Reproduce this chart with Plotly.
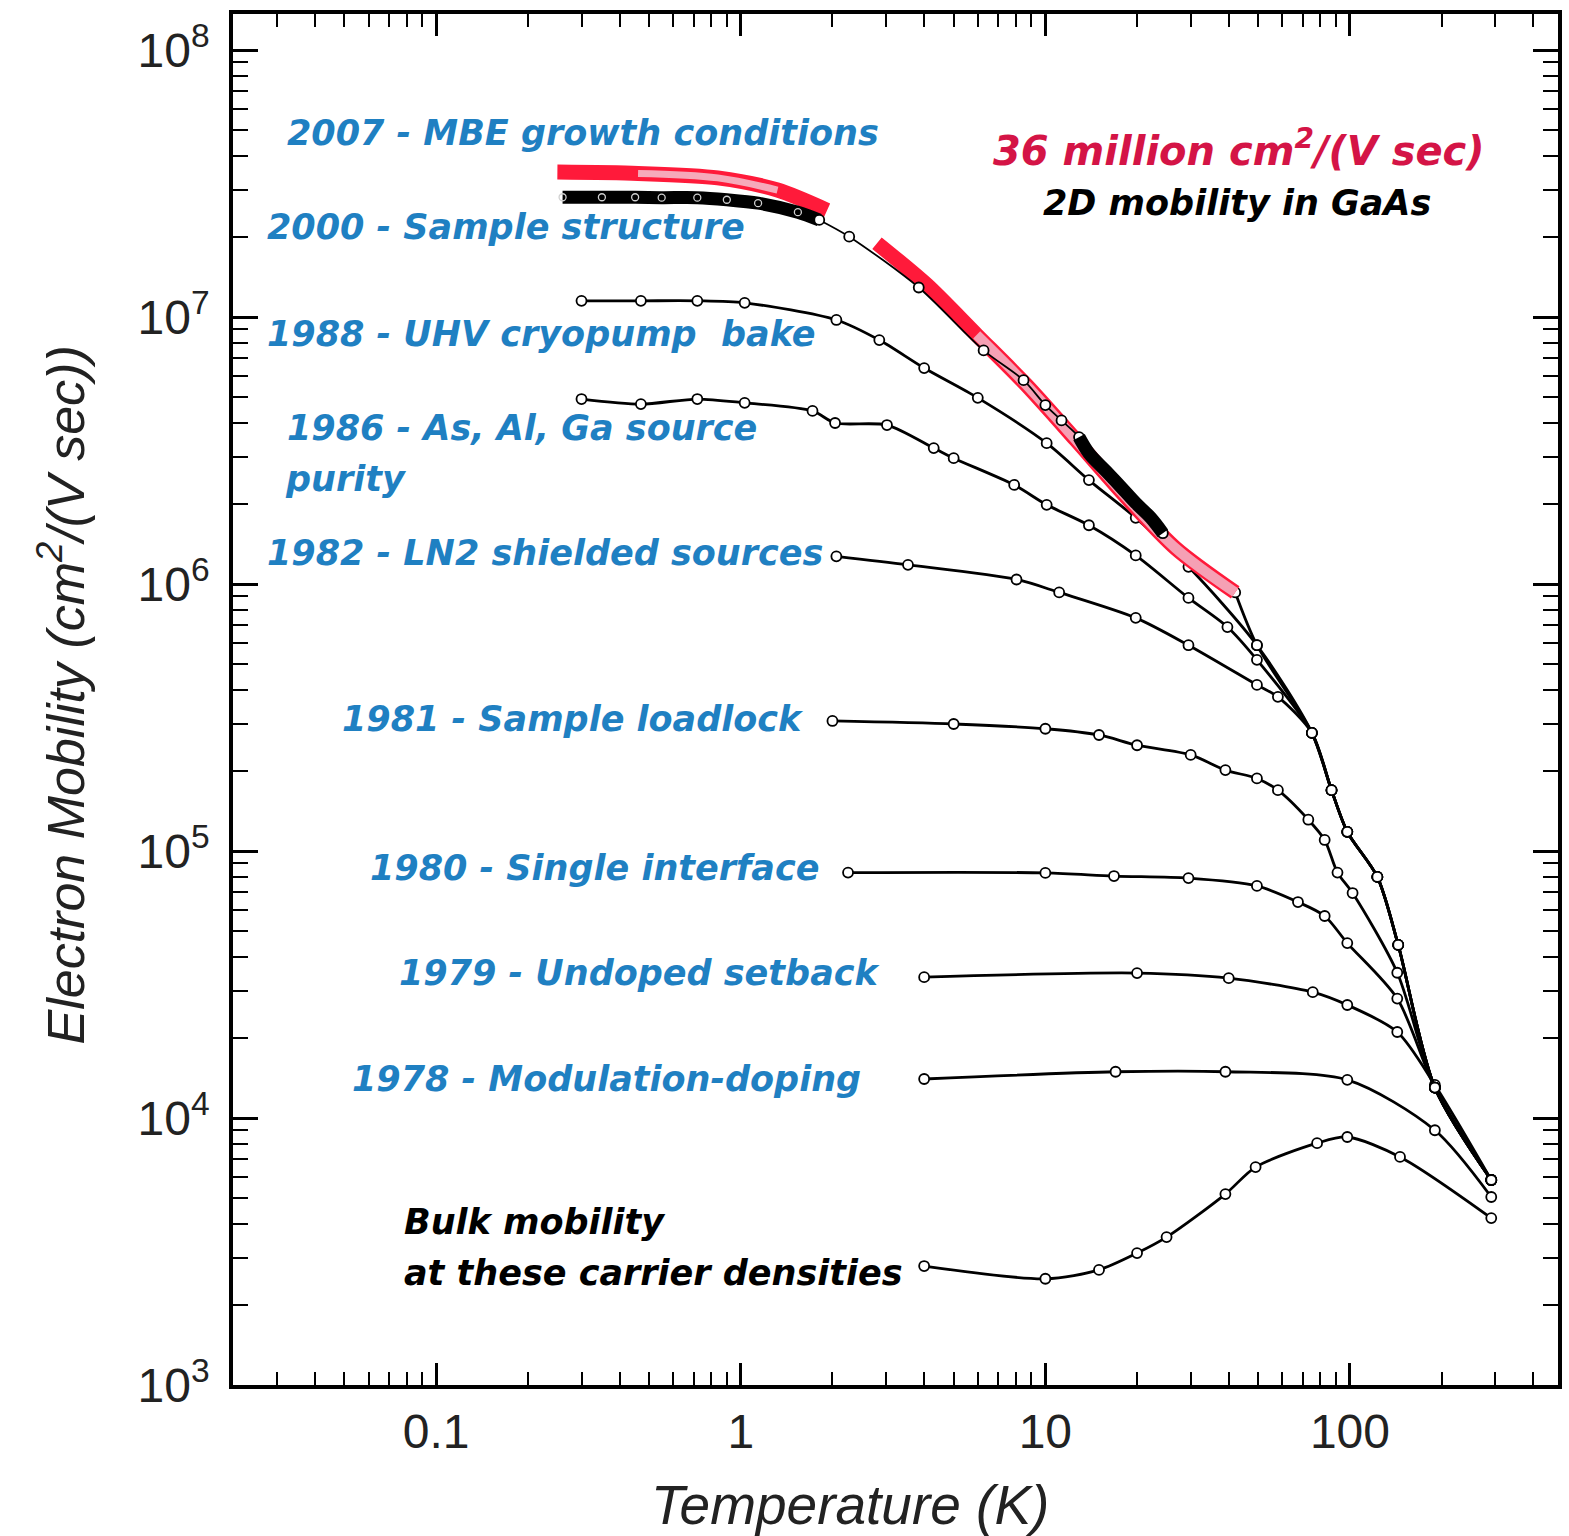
import plotly.graph_objects as go

# ---------------- data ----------------
# shared high-temperature (phonon-limited) tail
TAIL_T = [75, 87, 98, 123, 144, 190, 291]
TAIL_MU = [2.77e5, 1.69e5, 1.18e5, 8.0e4, 4.45e4, 1.3e4, 5.86e3]

T2007 = [0.25, 0.46, 0.84, 1.32, 1.92, None, 2.8, 4.08, 5.95, 8.67, 12.6, 18.4, 26.8, 42, 49.5] + TAIL_T
MU2007 = [3.49e7, 3.45e7, 3.32e7, 2.99e7, 2.51e7, None, 1.89e7, 1.32e7, 8.57e6, 5.56e6, 3.46e6, 2.12e6, 1.36e6, 9.3e5, 5.9e5] + TAIL_MU

T2000 = [0.26, 0.35, 0.45, 0.55, 0.72, 0.9, 1.14, 1.54, 1.81, 2.27, 3.84, 6.27, 8.48, 10, 11.3,
         12.9, 13.9, 15.8, 17.7, 19.8, 22.2, 24.3]
MU2000 = [2.81e7, 2.81e7, 2.81e7, 2.8e7, 2.8e7, 2.75e7, 2.67e7, 2.47e7, 2.31e7, 2.0e7, 1.29e7, 7.5e6,
          5.8e6, 4.68e6, 4.1e6, 3.55e6, 3.09e6, 2.65e6, 2.31e6, 2.01e6, 1.77e6, 1.55e6]

T1988 = [0.3, 0.47, 0.72, 1.03, 2.06, 2.85, 4.0, 6.0, 10.1, 13.9, 19.8, 29.5, 49.5] + TAIL_T
MU1988 = [1.15e7, 1.15e7, 1.15e7, 1.13e7, 9.75e6, 8.2e6, 6.44e6, 4.98e6, 3.37e6, 2.45e6, 1.77e6,
          1.16e6, 5.9e5] + TAIL_MU

T1986 = [0.3, 0.47, 0.72, 1.03, 1.72, 2.04, 3.02, 4.3, 5.0, 7.9, 10.1, 13.9, 19.8, 29.5, 39.6, 49.5] + TAIL_T
MU1986 = [4.93e6, 4.72e6, 4.93e6, 4.77e6, 4.45e6, 4.01e6, 3.94e6, 3.23e6, 2.96e6, 2.35e6, 1.98e6,
          1.66e6, 1.28e6, 8.87e5, 6.9e5, 5.2e5] + TAIL_MU

T1982 = [2.06, 3.54, 8.04, 11.1, 19.8, 29.5, 49.5, 58] + TAIL_T
MU1982 = [1.27e6, 1.18e6, 1.04e6, 9.3e5, 7.47e5, 5.9e5, 4.19e5, 3.78e5] + TAIL_MU

T1981 = [2, 5, 10, 15, 20, 30, 39, 49.5, 58, 73, 82.6, 91, 102, 143, 190, 291]
MU1981 = [3.07e5, 2.99e5, 2.87e5, 2.72e5, 2.49e5, 2.29e5, 2.01e5, 1.87e5, 1.69e5, 1.31e5, 1.10e5,
          8.3e4, 6.96e4, 3.5e4, 1.3e4, 5.86e3]

T1980 = [2.25, 10, 16.8, 29.5, 49.5, 67.5, 82.6, 98, 143, 190, 291]
MU1980 = [8.3e4, 8.28e4, 8.06e4, 7.92e4, 7.4e4, 6.44e4, 5.71e4, 4.52e4, 2.8e4, 1.3e4, 5.86e3]

T1979 = [4.0, 20, 40, 75.5, 98, 143, 190, 291]
MU1979 = [3.37e4, 3.49e4, 3.34e4, 2.96e4, 2.65e4, 2.1e4, 1.33e4, 5.86e3]

T1978 = [4.0, 17, 39, 98, 190, 291]
MU1978 = [1.4e4, 1.49e4, 1.49e4, 1.39e4, 9.0e3, 5.06e3]

TBULK = [4.0, 10, 15, 20, 25, 39, 49, 78, 98, 146, 291]
MUBULK = [2.79e3, 2.5e3, 2.7e3, 3.12e3, 3.58e3, 5.19e3, 6.55e3, 8.05e3, 8.49e3, 7.15e3, 4.22e3]

X_TICKS = [0.1, 1, 10, 100]
X_TICKTEXT = ["0.1", "1", "10", "100"]
Y_TICKS = [1e3, 1e4, 1e5, 1e6, 1e7, 1e8]
Y_TICKTEXT = ["10<sup>3</sup>", "10<sup>4</sup>", "10<sup>5</sup>", "10<sup>6</sup>",
              "10<sup>7</sup>", "10<sup>8</sup>"]

LABELS = [
    ("2007 - MBE growth conditions", 285, 133),
    ("2000 - Sample structure", 265, 227),
    ("1988 - UHV cryopump  bake", 265, 334),
    ("1986 - As, Al, Ga source", 285, 428),
    ("purity", 283, 479),
    ("1982 - LN2 shielded sources", 265, 553),
    ("1981 - Sample loadlock", 340, 719),
    ("1980 - Single interface", 368, 868),
    ("1979 - Undoped setback", 397, 973),
    ("1978 - Modulation-doping", 350, 1079),
]

# ---------------- layout helpers ----------------
W, H = 1569, 1536
L, R, T, B = 233, 1562, 14, 1385


def xp(px):
    return (px - L) / (R - L)


def yp(py):
    return (B - py) / (B - T)


BLUE = "#1f80c2"
fig = go.Figure()


def series(x, y, width=2.8):
    fig.add_trace(go.Scatter(
        x=x, y=y, mode="lines+markers",
        line=dict(color="black", width=width, shape="spline", smoothing=0.8),
        marker=dict(symbol="circle", size=10, color="white", line=dict(color="black", width=1.8)),
        showlegend=False, hoverinfo="x+y"))


for xs, ys in [(TBULK, MUBULK), (T1978, MU1978), (T1979, MU1979), (T1980, MU1980),
               (T1981, MU1981), (T1982, MU1982), (T1986, MU1986), (T1988, MU1988)]:
    series(xs, ys)

# 2007 thin continuation to the common tail
series(T2007[13:], MU2007[13:])

# 2007 red band
fig.add_trace(go.Scatter(x=T2007[:14], y=MU2007[:14], mode="lines",
                         line=dict(color="#ff1a3a", width=15, shape="spline", smoothing=0.8),
                         showlegend=False))
fig.add_trace(go.Scatter(x=T2007[1:4], y=MU2007[1:4], mode="lines",
                         line=dict(color="#f6a9ba", width=7, shape="spline"),
                         showlegend=False))
fig.add_trace(go.Scatter(x=T2007[8:14], y=MU2007[8:14], mode="lines",
                         line=dict(color="#f5a0b4", width=10, shape="spline"),
                         showlegend=False))

# 2000 black series
fig.add_trace(go.Scatter(x=T2000[:9], y=MU2000[:9], mode="lines",
                         line=dict(color="black", width=13, shape="spline", smoothing=0.8),
                         showlegend=False))
fig.add_trace(go.Scatter(x=T2000[:9], y=MU2000[:9], mode="markers",
                         marker=dict(symbol="circle-open", size=7, color="#d0d0d0", line=dict(width=1.3)),
                         showlegend=False))
series(T2000[8:], MU2000[8:], width=1.8)
fig.add_trace(go.Scatter(x=T2000[15:], y=MU2000[15:], mode="lines",
                         line=dict(color="black", width=13, shape="spline"),
                         showlegend=False))

# ---------------- annotations ----------------
ann = []
lab_font = dict(family="DejaVu Sans", size=35, color=BLUE, style="italic", weight="bold")
for text, px, py in LABELS:
    ann.append(dict(text=text, x=xp(px), y=yp(py), xref="paper", yref="paper",
                    xanchor="left", yanchor="middle", showarrow=False, font=lab_font))
blk_font = dict(family="DejaVu Sans", size=35, color="black", style="italic", weight="bold")
ann.append(dict(text="Bulk mobility", x=xp(403), y=yp(1222), xref="paper", yref="paper",
                xanchor="left", yanchor="middle", showarrow=False, font=blk_font))
ann.append(dict(text="at these carrier densities", x=xp(403), y=yp(1273), xref="paper", yref="paper",
                xanchor="left", yanchor="middle", showarrow=False, font=blk_font))
ann.append(dict(text="36 million cm<sup>2</sup>/(V sec)", x=xp(993), y=yp(148), xref="paper", yref="paper",
                xanchor="left", yanchor="middle", showarrow=False,
                font=dict(family="DejaVu Sans", size=40, color="#d41446", style="italic", weight="bold")))
ann.append(dict(text="2D mobility in GaAs", x=xp(1043), y=yp(203), xref="paper", yref="paper",
                xanchor="left", yanchor="middle", showarrow=False, font=blk_font))
# axis titles
ann.append(dict(text="Temperature (K)", x=xp(852), y=yp(1505), xref="paper", yref="paper",
                xanchor="center", yanchor="middle", showarrow=False,
                font=dict(family="Liberation Sans", size=55, color="#222", style="italic")))
ann.append(dict(text="Electron Mobility (cm<sup>2</sup>/(V sec))", x=xp(62), y=yp(695), xref="paper",
                yref="paper", xanchor="center", yanchor="middle", showarrow=False, textangle=-90,
                font=dict(family="Liberation Sans", size=52, color="#222", style="italic")))

minor_x = [k * 10 ** e for e in range(-2, 3) for k in range(2, 10)]
minor_y = [k * 10 ** e for e in range(3, 8) for k in range(2, 10)]

axis_common = dict(showline=True, linecolor="black", linewidth=3.5, mirror="allticks",
                   ticks="inside", tickwidth=2.5, tickcolor="black", showgrid=False, zeroline=False,
                   tickfont=dict(family="Liberation Sans", size=48, color="#222"))

fig.update_layout(
    width=W, height=H, margin=dict(l=L, r=W - R, t=T, b=H - B),
    paper_bgcolor="white", plot_bgcolor="white", annotations=ann, showlegend=False,
    xaxis=dict(type="log", range=[-1.667, 2.683], tickvals=X_TICKS, ticktext=X_TICKTEXT, ticklen=22,
               minor=dict(tickvals=minor_x, ticks="inside", ticklen=13, tickwidth=2.2, tickcolor="black"),
               ticklabelstandoff=2, **axis_common),
    yaxis=dict(type="log", range=[3, 8.135], tickvals=Y_TICKS, ticktext=Y_TICKTEXT, ticklen=25,
               minor=dict(tickvals=minor_y, ticks="inside", ticklen=15, tickwidth=2.2, tickcolor="black"),
               ticklabelstandoff=10, **axis_common),
)

fig.write_html("out.html")
